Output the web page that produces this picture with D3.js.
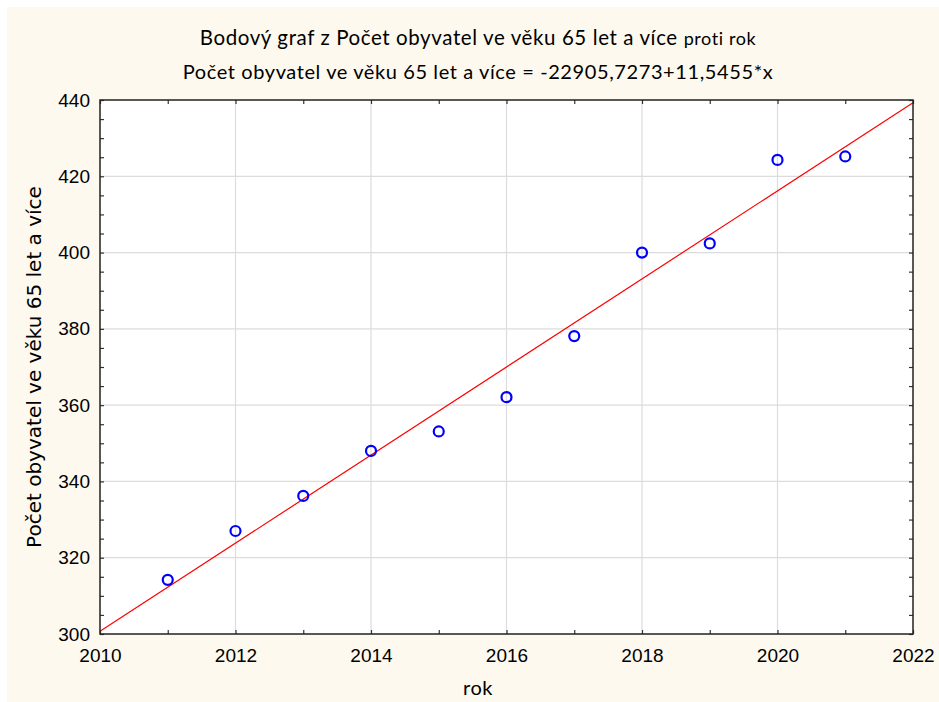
<!DOCTYPE html>
<html>
<head>
    <meta charset="utf-8">
    <title>Bodový graf</title>
    <script src="https://d3js.org/d3.v7.min.js"></script>
    <style>
        body { margin: 0; background: #fff; }
        .tick text { font-family: "Liberation Sans", Arial, sans-serif; font-size: 19px; fill: #000; }
        .title { font-family: Lato, "Open Sans", sans-serif; fill: #000; letter-spacing: 0.6px; }
    </style>
</head>
<body>
    <svg width="939" height="702"></svg>
    <script>
        // data
        var years = [2011, 2012, 2013, 2014, 2015, 2016, 2017, 2018, 2019, 2020, 2021];
        var seniors = [314.2, 327, 336.2, 348, 353.1, 362.1, 378.1, 400, 402.4, 424.3, 425.2];
        var fit = {intercept: -22905.7273, slope: 11.5455};
        var xTicks = [2010, 2012, 2014, 2016, 2018, 2020, 2022];
        var yTicks = [300, 320, 340, 360, 380, 400, 420, 440];

        var svg = d3.select("svg"),
            margin = {top: 100, right: 26, bottom: 68, left: 100},
            width = +svg.attr("width") - margin.left - margin.right,
            height = +svg.attr("height") - margin.top - margin.bottom;

        svg.append("rect").attr("x", 7).attr("y", 7).attr("width", 932).attr("height", 695).attr("fill", "#fdf9ee");

        var x = d3.scaleLinear().domain([2010, 2022]).range([0, width]);
        var y = d3.scaleLinear().domain([300, 440]).range([height, 0]);

        var g = svg.append("g").attr("transform", "translate(" + margin.left + "," + margin.top + ")");

        g.append("rect").attr("width", width).attr("height", height).attr("fill", "#fff");

        // grid
        g.selectAll(".gx").data(xTicks.slice(1, -1)).enter().append("line")
         .attr("x1", d => x(d)).attr("x2", d => x(d)).attr("y1", 0).attr("y2", height)
         .attr("stroke", "#dcdcdc").attr("stroke-width", 1.2);
        g.selectAll(".gy").data(yTicks.slice(1, -1)).enter().append("line")
         .attr("y1", d => y(d)).attr("y2", d => y(d)).attr("x1", 0).attr("x2", width)
         .attr("stroke", "#dcdcdc").attr("stroke-width", 1.2);

        // axes with inward minor ticks
        var yMinor = d3.range(300, 441, 5), xMinor = d3.range(2010, 2023, 1);
        function styleAxis(sel) {
            sel.select(".domain").remove();
            sel.selectAll(".tick line").attr("stroke", "#333").attr("stroke-width", 1.2);
        }
        g.append("g").call(d3.axisLeft(y).tickValues(yMinor).tickSize(-4).tickFormat(d => d % 20 === 0 ? d : "").tickPadding(10))
         .call(styleAxis);
        g.append("g").attr("transform", "translate(" + width + ",0)")
         .call(d3.axisRight(y).tickValues(yMinor).tickSize(-4).tickFormat(""))
         .call(styleAxis);
        g.append("g").attr("transform", "translate(0," + height + ")")
         .call(d3.axisBottom(x).tickValues(xMinor).tickSize(-4).tickFormat(d => d % 2 === 0 ? d : "").tickPadding(15))
         .call(styleAxis);
        g.append("g")
         .call(d3.axisTop(x).tickValues(xMinor).tickSize(-4).tickFormat(""))
         .call(styleAxis);

        // regression line
        var x0 = 2010, x1 = 2022;
        g.append("line")
         .attr("x1", x(x0)).attr("y1", y(fit.intercept + fit.slope * x0))
         .attr("x2", x(x1)).attr("y2", y(fit.intercept + fit.slope * x1))
         .attr("stroke", "#ff0000").attr("stroke-width", 1.2);

        // frame
        g.append("rect").attr("width", width).attr("height", height)
         .attr("fill", "none").attr("stroke", "#222").attr("stroke-width", 1.5);

        // points
        g.selectAll(".dot").data(years).enter().append("circle")
         .attr("cx", d => x(d)).attr("cy", (d, i) => y(seniors[i]))
         .attr("r", 5).attr("fill", "none").attr("stroke", "#0000ff").attr("stroke-width", 2.2);

        // titles
        var t1 = svg.append("text").attr("class", "title").attr("x", 478).attr("y", 45)
         .attr("text-anchor", "middle").attr("font-size", 20.5);
        t1.append("tspan").text("Bodový graf z Počet obyvatel ve věku 65 let a více ");
        t1.append("tspan").attr("font-size", 18).text("proti rok");
        svg.append("text").attr("class", "title").attr("x", 478).attr("y", 79)
         .attr("text-anchor", "middle").attr("font-size", 20)
         .text("Počet obyvatel ve věku 65 let a více = -22905,7273+11,5455*x");

        svg.append("text").attr("class", "title").attr("x", 478).attr("y", 695)
         .attr("text-anchor", "middle").attr("font-size", 20).text("rok");

        svg.append("text").attr("transform", "translate(41," + (margin.top + height / 2) + ") rotate(-90)")
         .attr("text-anchor", "middle").attr("font-family", "'DejaVu Sans', Verdana, sans-serif")
         .attr("font-size", 20).text("Počet obyvatel ve věku 65 let a více");
    </script>
</body>
</html>
